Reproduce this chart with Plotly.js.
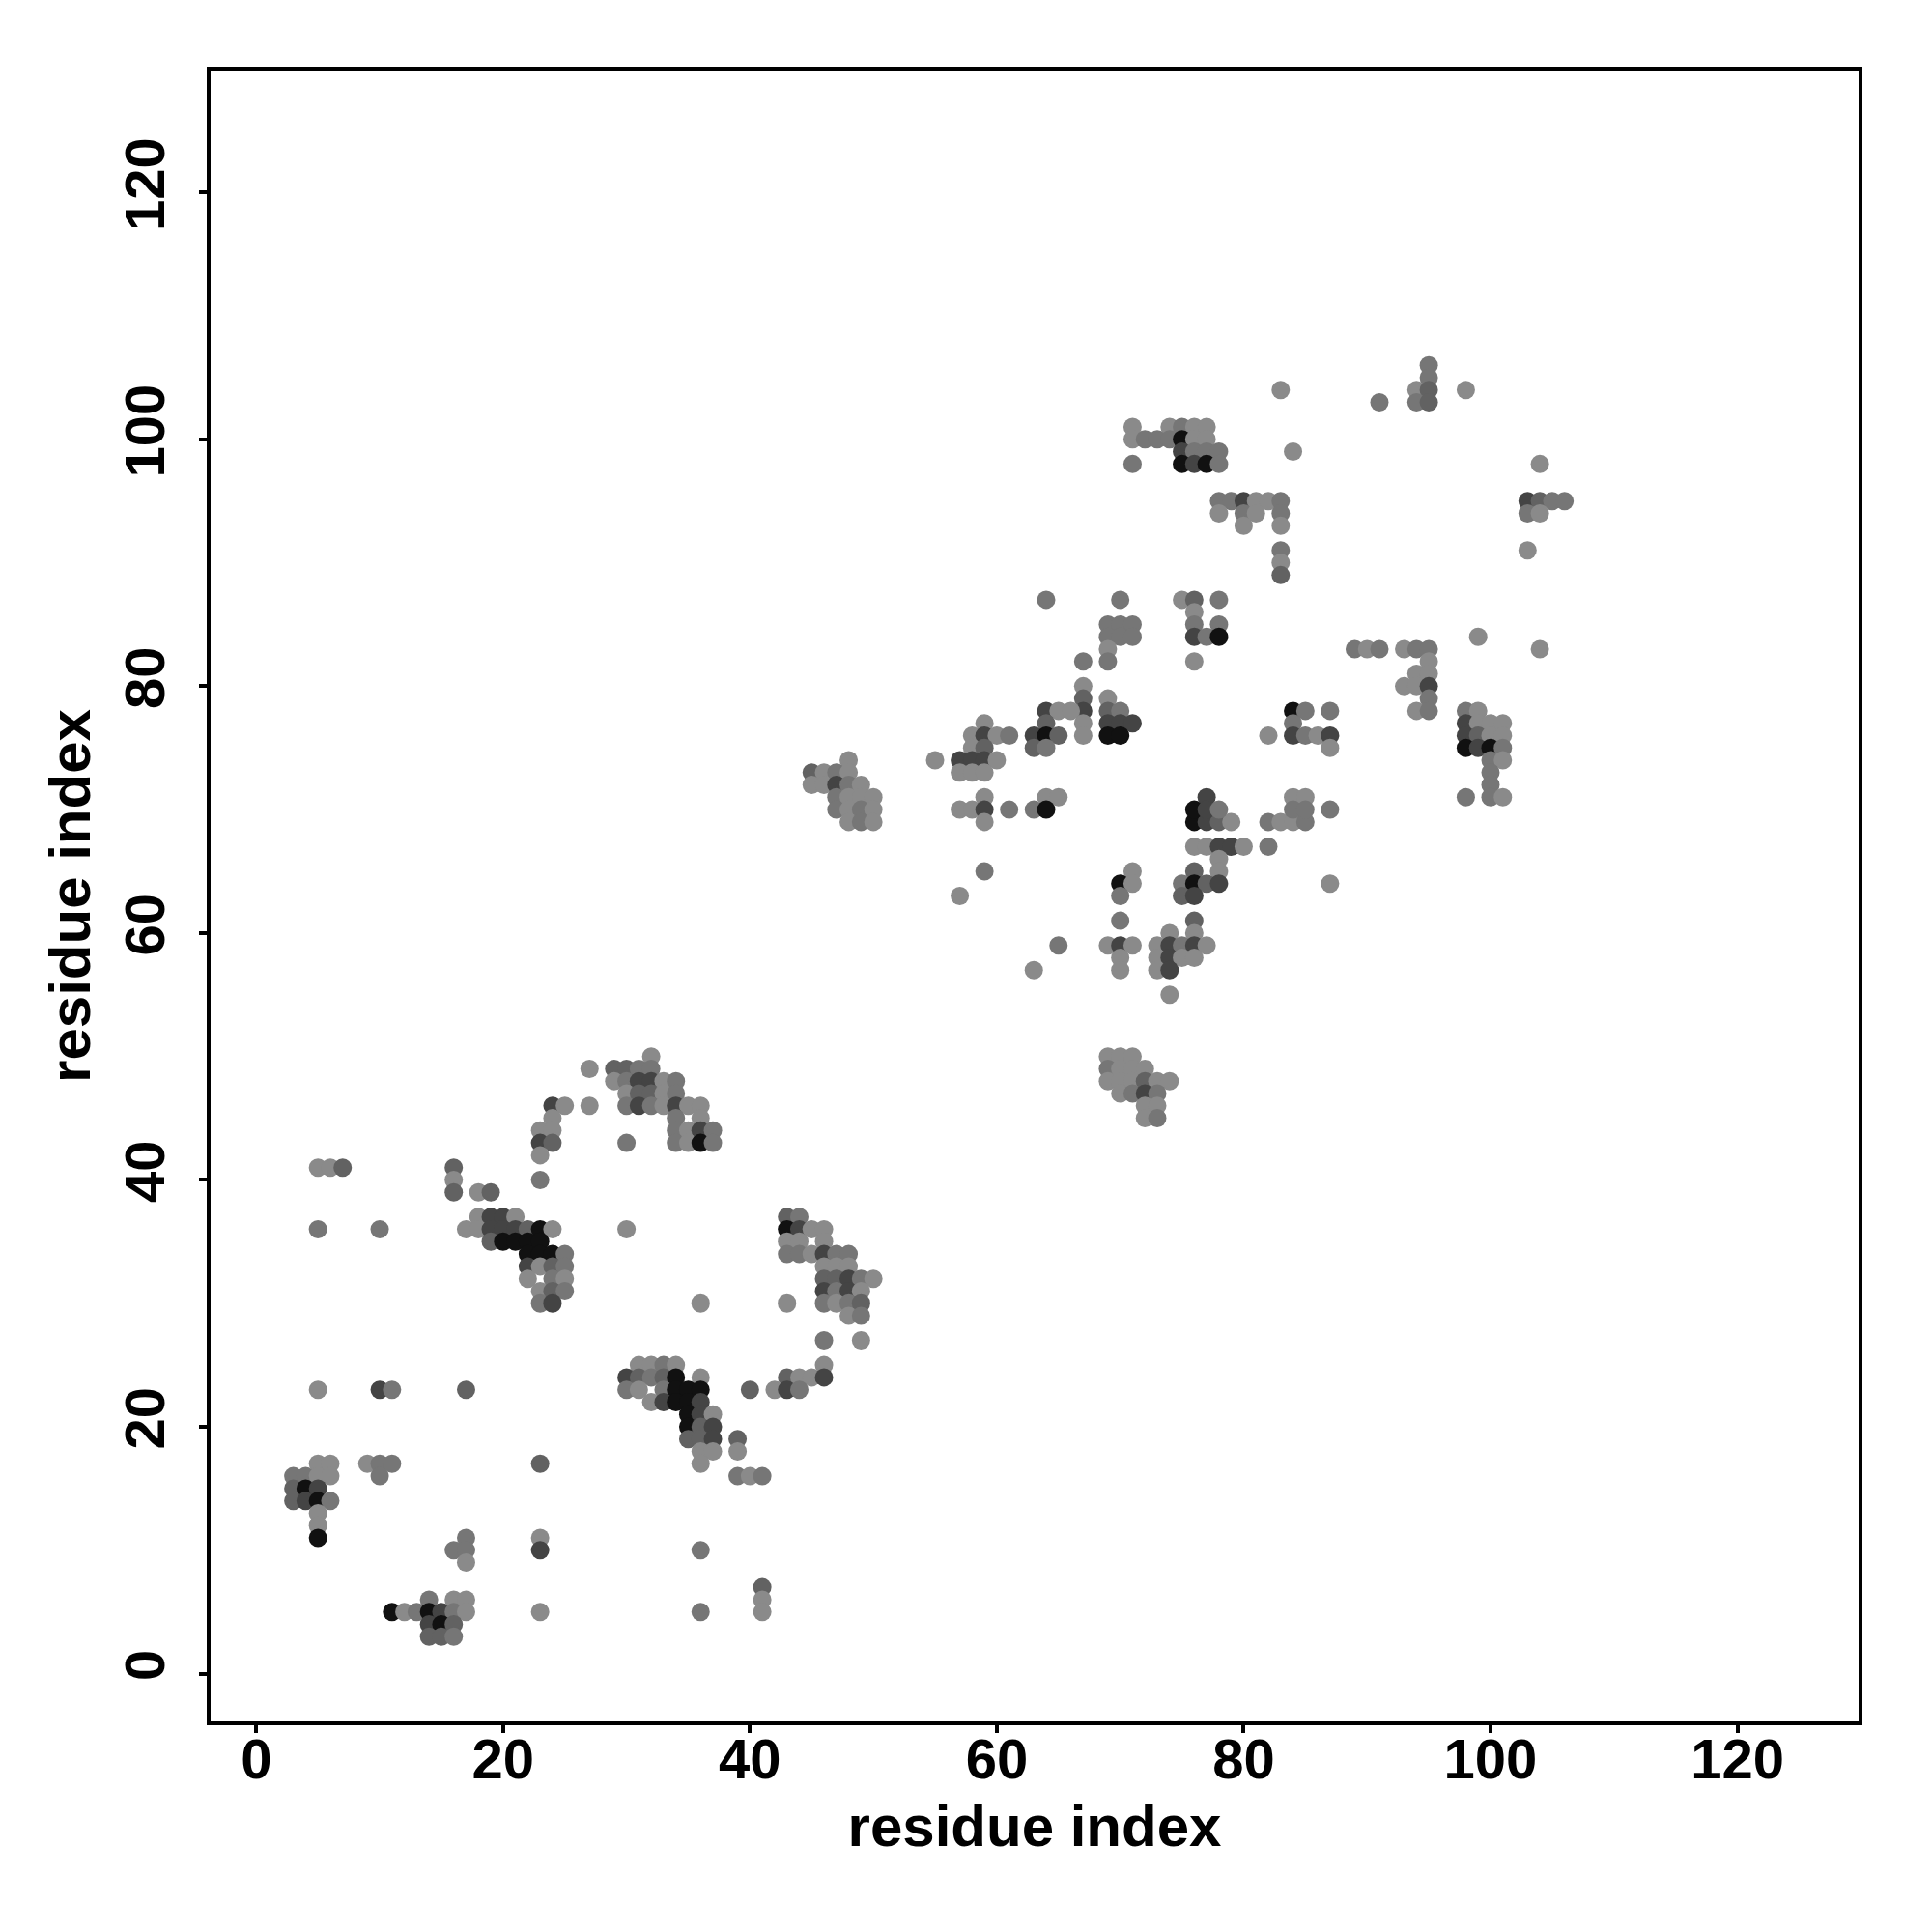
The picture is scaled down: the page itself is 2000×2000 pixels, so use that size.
<!DOCTYPE html>
<html>
<head>
<meta charset="utf-8">
<script src="https://cdn.plot.ly/plotly-3.0.1.min.js"></script>
<style>html,body{margin:0;padding:0;background:#fff;}#plot{width:2000px;height:2000px;}</style>
</head>
<body>
<div id="plot"></div>
<script>
// Each contact: [residue i, residue j, shade level 1 (light) .. 5 (black)]
const contactsLowLeft = [
  [5,23,1],[10,23,4],[11,23,2],[17,23,3],
  [5,17,1],[6,17,1],[9,17,1],[10,17,2],[11,17,2],[23,17,3],
  [3,16,2],[4,16,2],[5,16,1],[6,16,1],[10,16,2],
  [3,15,3],[4,15,5],[5,15,4],
  [3,14,3],[4,14,4],[5,14,5],[6,14,2],
  [5,13,1],[5,12,1],[5,11,5],
  [17,11,2],[16,10,2],[17,10,2],[17,9,1],[23,11,1],[23,10,4],
  [14,6,2],[16,6,1],[17,6,1],
  [11,5,5],[12,5,1],[13,5,2],[14,5,5],[15,5,4],[16,5,2],[17,5,1],[23,5,1],
  [14,4,4],[15,4,5],[16,4,3],
  [14,3,3],[15,3,3],[16,3,2]
];
const contactsLowMid = [
  [31,25,1],[32,25,1],[33,25,2],[34,25,1],[46,25,1],
  [30,24,4],[31,24,3],[32,24,2],[33,24,3],[34,24,5],[36,24,1],[43,24,3],[44,24,1],[45,24,1],[46,24,4],
  [30,23,2],[31,23,1],[33,23,2],[34,23,5],[35,23,5],[36,23,5],[40,23,3],[42,23,1],[43,23,4],[44,23,2],
  [32,22,1],[33,22,4],[34,22,5],[35,22,5],[36,22,4],
  [35,21,5],[36,21,4],[37,21,1],
  [35,20,5],[36,20,3],[37,20,4],
  [35,19,3],[36,19,3],[37,19,4],[39,19,3],
  [36,18,1],[37,18,1],[39,18,1],[36,17,1],
  [39,16,2],[40,16,1],[41,16,2],
  [36,10,2],[41,7,3],[41,6,1],[41,5,1],[36,5,2]
];
const contactsMidLeft = [
  [24,46,4],[25,46,1],[24,45,1],[23,44,1],[24,44,1],[23,43,4],[24,43,3],[23,42,1],[23,40,2],
  [5,41,1],[6,41,1],[7,41,3],[5,36,2],[10,36,2],
  [16,41,3],[16,40,1],[16,39,3],[18,39,1],[19,39,3],
  [18,37,1],[19,37,4],[20,37,4],[21,37,1],
  [17,36,1],[18,36,1],[19,36,4],[20,36,4],[21,36,4],[22,36,3],[23,36,5],[24,36,1],
  [19,35,3],[20,35,5],[21,35,5],[22,35,5],[23,35,5],
  [22,34,5],[23,34,5],[24,34,5],[25,34,2],
  [22,33,4],[23,33,1],[24,33,3],[25,33,2],
  [22,32,1],[24,32,2],[25,32,1],
  [23,31,1],[24,31,3],[25,31,2],
  [23,30,2],[24,30,4]
];
const contactsMidMid = [
  [32,50,1],
  [27,49,1],[29,49,3],[30,49,3],[31,49,2],[32,49,2],
  [29,48,1],[30,48,2],[31,48,4],[32,48,4],[33,48,1],[34,48,2],
  [30,47,1],[31,47,3],[32,47,3],[33,47,1],[34,47,2],
  [27,46,1],[30,46,2],[31,46,4],[32,46,2],[33,46,1],[34,46,4],[35,46,1],[36,46,1],
  [34,45,2],[36,45,1],
  [34,44,2],[35,44,1],[36,44,4],[37,44,2],
  [30,43,2],[34,43,2],[35,43,1],[36,43,5],[37,43,2],
  [30,36,1],[36,30,1],
  [43,37,3],[44,37,2],
  [43,36,5],[44,36,4],[45,36,1],[46,36,1],
  [43,35,1],[44,35,1],[46,35,1],
  [43,34,2],[44,34,2],[45,34,1],[46,34,4],[47,34,2],[48,34,2],
  [46,33,1],[47,33,1],[48,33,1],
  [46,32,3],[47,32,3],[48,32,4],[49,32,2],[50,32,1],
  [46,31,4],[47,31,2],[48,31,4],[49,31,1],
  [43,30,1],[46,30,2],[47,30,1],[48,30,2],[49,30,3],
  [48,29,1],[49,29,2],[46,27,2],[49,27,1]
];
const contactsCentre = [
  [67,80,1],[67,79,3],[67,78,4],[67,77,1],[67,76,1],
  [64,78,4],[65,78,1],[66,78,1],[64,77,3],
  [63,76,4],[64,76,5],[65,76,3],[63,75,3],[64,75,2],
  [59,77,1],[58,76,1],[59,76,4],[60,76,1],[61,76,2],[58,75,1],[59,75,3],
  [55,74,1],[57,74,4],[58,74,4],[59,74,4],[60,74,1],
  [57,73,1],[58,73,1],[59,73,1],
  [59,71,1],[64,71,1],[65,71,1],
  [57,70,1],[58,70,1],[59,70,4],[61,70,2],[63,70,2],[64,70,5],
  [59,69,1],[59,65,2],[57,63,1],[65,59,2],[63,57,1],[64,87,2],
  [48,74,1],
  [45,73,3],[46,73,1],[47,73,2],[48,73,1],
  [45,72,1],[46,72,1],[47,72,4],[48,72,2],[49,72,1],
  [47,71,2],[48,71,1],[49,71,1],[50,71,1],
  [47,70,2],[48,70,1],[49,70,2],[50,70,1],
  [48,69,1],[49,69,2],[50,69,1]
];
const contactsRightLow = [
  [76,69,5],[77,69,4],[78,69,3],[79,69,1],[82,69,2],[83,69,1],[84,69,1],[85,69,2],
  [76,67,1],[77,67,1],[78,67,4],[79,67,4],[80,67,1],[82,67,2],
  [78,66,1],[71,65,1],[76,65,3],[78,65,1],
  [70,64,5],[71,64,1],[75,64,2],[76,64,5],[77,64,3],[78,64,4],[87,64,1],
  [70,63,2],[75,63,3],[76,63,4],
  [70,61,2],[76,61,3],[74,60,1],[76,60,1],
  [69,59,1],[70,59,4],[71,59,1],[73,59,1],[74,59,4],[75,59,2],[76,59,4],[77,59,1],
  [70,58,1],[73,58,1],[74,58,4],[75,58,1],[76,58,1],
  [70,57,1],[73,57,1],[74,57,4],[74,55,1],
  [69,50,1],[70,50,1],[71,50,1],
  [69,49,2],[70,49,1],[71,49,1],[72,49,1],
  [69,48,1],[70,48,1],[71,48,1],[72,48,3],[73,48,1],[74,48,1],
  [70,47,1],[71,47,2],[72,47,4],[73,47,2],
  [72,46,1],[73,46,1],[72,45,1],[73,45,2]
];
const contactsRightMid = [
  [83,91,2],[83,90,1],[83,89,3],[70,87,2],
  [69,85,2],[70,85,2],[71,85,2],[69,84,2],[70,84,2],[71,84,2],
  [69,83,1],[69,82,2],[67,82,2],
  [75,87,1],[76,87,3],[78,87,2],[76,86,1],[76,85,2],[78,85,2],
  [76,84,4],[77,84,2],[78,84,5],[76,82,1],
  [89,83,2],[90,83,1],[91,83,2],
  [69,79,1],[69,78,3],[70,78,2],[69,77,4],[70,77,4],[71,77,4],[69,76,5],[70,76,5],
  [84,78,5],[85,78,2],[87,78,2],[84,77,2],
  [82,76,1],[84,76,4],[85,76,2],[86,76,1],[87,76,4],[87,75,1],
  [77,71,4],[76,70,5],[77,70,4],[78,70,2],
  [84,71,1],[85,71,1],[84,70,2],[85,70,2],[87,70,2]
];
const contactsFarRight = [
  [103,91,1],[99,84,1],[104,83,1],
  [93,83,1],[94,83,2],[95,83,2],[95,82,1],[94,81,1],[95,81,1],
  [93,80,1],[94,80,1],[95,80,4],[95,79,2],[94,78,1],[95,78,2],
  [98,78,2],[99,78,1],
  [98,77,4],[99,77,1],[100,77,1],[101,77,1],
  [98,76,4],[99,76,3],[100,76,1],[101,76,1],
  [98,75,5],[99,75,4],[100,75,5],[101,75,2],
  [100,74,2],[101,74,1],[100,73,2],[100,72,2],
  [98,71,2],[100,71,2],[101,71,1]
];
const contactsTop = [
  [83,104,1],[91,103,2],[84,99,1],
  [71,101,1],[74,101,1],[75,101,2],[76,101,1],[77,101,1],
  [71,100,1],[72,100,2],[73,100,2],[74,100,2],[75,100,5],[76,100,1],[77,100,1],
  [75,99,4],[76,99,2],[77,99,2],[78,99,2],
  [71,98,2],[75,98,5],[76,98,4],[77,98,5],[78,98,2],
  [78,95,2],[79,95,2],[80,95,4],[81,95,1],[82,95,1],[83,95,2],
  [78,94,1],[80,94,2],[81,94,1],[83,94,2],
  [80,93,1],[83,93,1],
  [95,106,2],[95,105,2],[94,104,1],[95,104,3],[94,103,2],[95,103,3],[98,104,1],
  [104,98,1],
  [103,95,4],[104,95,3],[105,95,2],[106,95,2],[103,94,2],[104,94,1]
];
const tickValues = [0, 20, 40, 60, 80, 100, 120];
const axisTitle = "residue index";

const all = [].concat(contactsLowLeft, contactsLowMid, contactsMidLeft, contactsMidMid,
  contactsCentre, contactsRightLow, contactsRightMid, contactsFarRight, contactsTop);

const font = {family: "Liberation Sans, Arial, Helvetica, sans-serif", color: "#000", weight: 700};

const trace = {
  type: "scatter",
  mode: "markers",
  x: all.map(d => d[0]),
  y: all.map(d => d[1]),
  hoverinfo: "x+y",
  marker: {
    size: 19,
    color: all.map(d => d[2]),
    cmin: 1, cmax: 5,
    colorscale: [[0, "#8a8a8a"], [0.25, "#767676"], [0.5, "#626262"], [0.75, "#444444"], [1, "#111111"]],
    showscale: false,
    line: {width: 0}
  }
};

const axisCommon = {
  tickvals: tickValues,
  ticktext: tickValues.map(String),
  ticks: "outside",
  ticklen: 8,
  tickwidth: 4,
  tickcolor: "#000",
  showline: true,
  linewidth: 4,
  linecolor: "#000",
  mirror: true,
  showgrid: false,
  zeroline: false,
  tickfont: Object.assign({size: 58}, font)
};

const layout = {
  width: 2000,
  height: 2000,
  margin: {l: 218, r: 76, t: 73, b: 218, pad: 0},
  paper_bgcolor: "#fff",
  plot_bgcolor: "#fff",
  showlegend: false,
  xaxis: Object.assign({}, axisCommon, {
    range: [-3.70, 129.82],
    ticklabelstandoff: -23,
    title: {text: axisTitle, font: Object.assign({size: 60}, font), standoff: 18}
  }),
  yaxis: Object.assign({}, axisCommon, {
    range: [-3.87, 129.88],
    tickangle: -90,
    ticklabelstandoff: 13,
    title: {text: axisTitle, font: Object.assign({size: 60}, font), standoff: 5}
  })
};

Plotly.newPlot("plot", [trace], layout, {staticPlot: true, displayModeBar: false});
</script>
</body>
</html>
